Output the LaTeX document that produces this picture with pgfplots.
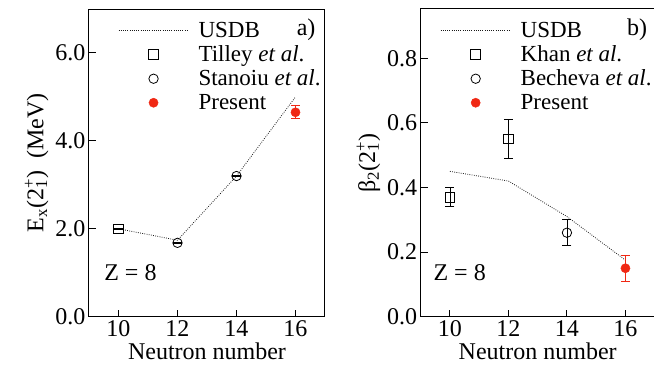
\documentclass[border=0pt]{standalone}
\usepackage{fontspec}
\setmainfont{LiberationSerif-Regular.ttf}[ItalicFont=LiberationSerif-Italic.ttf, BoldFont=LiberationSerif-Bold.ttf]
\usepackage{pgfplots}
\pgfplotsset{compat=1.18}
\definecolor{pres}{RGB}{240,40,20}
\begin{document}
\begin{tikzpicture}
\path[use as bounding box] (-89pt,-55.3pt) rectangle (565pt,316.7pt);
\pgfplotsset{
 myax/.style={
  scale only axis, height=307.7pt,
  xmin=9, xmax=17, xtick={10,12,14,16},
  tick align=inside, xtick pos=bottom, ytick pos=left,
  major tick length=7pt,
  font=\fontsize{24}{26}\selectfont,
  /pgf/number format/assume math mode=true,
  yticklabel style={/pgf/number format/.cd, fixed, fixed zerofill, precision=1},
  axis line style={line width=1pt},
  every tick/.style={line width=1pt, black},
  xlabel={Neutron number},
  legend style={draw=none, fill=none, anchor=north west, font=\fontsize{23}{23}\selectfont, row sep=3pt},
  legend cell align=left,
  legend image code/.code={\path[draw=none,fill=none] (0pt,0pt) -- (78pt,0pt);\draw[mark repeat=2,mark phase=2,##1] plot coordinates {(0pt,0pt)(35pt,0pt)(70pt,0pt)};},
  usdb/.style={dash pattern=on 0.8pt off 1.4pt, line width=0.8pt, black!90, mark=none},
  sq/.style={only marks, mark=square, mark size=4.8pt, black, line width=0.8pt, mark options={solid},
     error bars/.cd, y dir=both, y explicit, error bar style={line width=0.8pt}, error mark options={rotate=90, mark size=4.5pt, line width=0.8pt}},
  ci/.style={only marks, mark=o, mark size=4.7pt, black, line width=0.8pt, mark options={solid},
     error bars/.cd, y dir=both, y explicit, error bar style={line width=0.8pt}, error mark options={rotate=90, mark size=4.5pt, line width=0.8pt}},
  pr/.style={only marks, mark=*, mark size=4.6pt, pres, mark options={solid, fill=pres, draw=pres},
     error bars/.cd, y dir=both, y explicit, error bar style={line width=0.8pt, pres}, error mark options={rotate=90, mark size=4.5pt, line width=0.8pt, pres}},
 },
}
\begin{axis}[myax, width=236pt,
  ymin=0, ymax=7, ytick={0,2,4,6},
  ylabel={E\textsubscript{x}(2\rlap{\textsubscript{1}}\textsuperscript{+})\ \ (MeV)},
  legend style={at={(rel axis cs:0.11,0.972)}},
]
\addplot[usdb] coordinates {(10,2.0) (12,1.74) (14,3.2) (16,5.0)};
\addlegendentry{USDB}
\addplot[sq] coordinates {(10,2.0) +- (0,0.01)};
\addlegendentry{Tilley \textit{et al}.}
\addplot[ci] coordinates {(12,1.68) +- (0,0.01) (14,3.2) +- (0,0.01)};
\addlegendentry{Stanoiu \textit{et al}.}
\addplot[pr] coordinates {(16,4.65) +- (0,0.15)};
\addlegendentry{Present}
\node[anchor=west] at (rel axis cs:0.05,0.142) {Z = 8};
\node at (rel axis cs:0.92,0.932) {a)};
\end{axis}
\begin{axis}[myax, width=234pt, at={(331.7pt,0pt)},
  ymin=0, ymax=0.9526, ytick={0,0.2,0.4,0.6,0.8},
  ylabel={β\textsubscript{2}(2\rlap{\textsubscript{1}}\textsuperscript{+})},
  legend style={at={(rel axis cs:0.07,0.972)}},
]
\addplot[usdb] coordinates {(10,0.45) (12,0.42) (14,0.31) (16,0.175)};
\addlegendentry{USDB}
\addplot[sq] coordinates {(10,0.37) +- (0,0.03) (12,0.55) +- (0,0.06)};
\addlegendentry{Khan \textit{et al}.}
\addplot[ci] coordinates {(14,0.26) +- (0,0.04)};
\addlegendentry{Becheva \textit{et al}.}
\addplot[pr] coordinates {(16,0.15) +- (0,0.04)};
\addlegendentry{Present}
\node[anchor=west] at (rel axis cs:0.04,0.142) {Z = 8};
\node at (rel axis cs:0.925,0.932) {b)};
\end{axis}
\end{tikzpicture}
\end{document}
